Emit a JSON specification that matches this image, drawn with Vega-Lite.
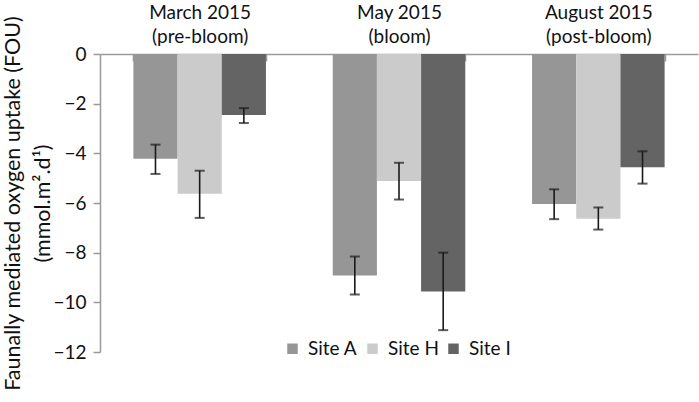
{
  "$schema": "https://vega.github.io/schema/vega-lite/v6.json",
  "width": 598,
  "height": 298,
  "autosize": {"type": "none"},
  "padding": {"left": 100, "top": 54, "right": 1, "bottom": 50},
  "background": "white",
  "config": {
    "font": "Lato",
    "view": {"stroke": null}
  },
  "data": {
    "values": [
      {"period": "March 2015|(pre-bloom)", "site": "Site A", "mean": -4.22, "lo": -4.83, "hi": -3.65},
      {"period": "March 2015|(pre-bloom)", "site": "Site H", "mean": -5.63, "lo": -6.6, "hi": -4.7},
      {"period": "March 2015|(pre-bloom)", "site": "Site I", "mean": -2.46, "lo": -2.78, "hi": -2.18},
      {"period": "May 2015|(bloom)", "site": "Site A", "mean": -8.92, "lo": -9.68, "hi": -8.15},
      {"period": "May 2015|(bloom)", "site": "Site H", "mean": -5.11, "lo": -5.86, "hi": -4.38},
      {"period": "May 2015|(bloom)", "site": "Site I", "mean": -9.56, "lo": -11.12, "hi": -8.0},
      {"period": "August 2015|(post-bloom)", "site": "Site A", "mean": -6.04, "lo": -6.65, "hi": -5.45},
      {"period": "August 2015|(post-bloom)", "site": "Site H", "mean": -6.63, "lo": -7.07, "hi": -6.18},
      {"period": "August 2015|(post-bloom)", "site": "Site I", "mean": -4.56, "lo": -5.22, "hi": -3.92}
    ]
  },
  "encoding": {
    "x": {
      "field": "period",
      "type": "nominal",
      "sort": null,
      "scale": {"paddingInner": 0.335, "paddingOuter": 0.1675},
      "axis": {
        "orient": "top",
        "title": null,
        "labelAngle": 0,
        "labelExpr": "split(datum.label, '|')",
        "labelFontSize": 19,
        "labelFontWeight": "normal",
        "labelLineHeight": 24,
        "labelColor": "#111111",
        "labelBaseline": "top",
        "labelPadding": 58,
        "tickBand": "extent",
        "tickSize": -7,
        "tickColor": "#9a9a9a",
        "domainColor": "#9a9a9a",
        "domainWidth": 1.5,
        "tickWidth": 1.5
      }
    },
    "xOffset": {"field": "site", "type": "nominal", "sort": ["Site A", "Site H", "Site I"]}
  },
  "layer": [
    {
      "mark": {"type": "bar"},
      "encoding": {
        "y": {
          "field": "mean",
          "type": "quantitative",
          "scale": {"domain": [-12, 0], "nice": false, "zero": false},
          "axis": {
            "values": [0, -2, -4, -6, -8, -10, -12],
            "format": "d",
            "grid": false,
            "labelFontSize": 19,
            "labelColor": "#111111",
            "labelPadding": 7,
            "tickSize": 7,
            "tickColor": "#9a9a9a",
            "domainColor": "#9a9a9a",
            "domainWidth": 1.5,
            "tickWidth": 1.5,
            "title": ["Faunally mediated oxygen uptake (FOU)", "(mmol.m².d¹)"],
            "titleFontSize": 21.5,
            "titleFontWeight": "normal",
            "titleColor": "#111111",
            "titleLineHeight": 30,
            "titleAngle": -90,
            "titleX": -98,
            "titleY": 149,
            "titleAlign": "center",
            "titleBaseline": "top"
          }
        },
        "y2": {"datum": 0},
        "color": {
          "field": "site",
          "type": "nominal",
          "scale": {"domain": ["Site A", "Site H", "Site I"], "range": ["#969696", "#cbcbcb", "#646464"]},
          "legend": {
            "title": null,
            "orient": "none",
            "direction": "horizontal",
            "legendX": 183,
            "legendY": 285,
            "symbolType": "square",
            "symbolSize": 110,
            "symbolStrokeWidth": 0,
            "labelFontSize": 19,
            "labelColor": "#111111",
            "labelOffset": 6,
            "columnPadding": 5
          }
        }
      }
    },
    {
      "mark": {"type": "rule", "color": "#1a1a1a", "strokeWidth": 1.6},
      "encoding": {
        "y": {"field": "lo", "type": "quantitative"},
        "y2": {"field": "hi"}
      }
    },
    {
      "mark": {"type": "tick", "color": "#1a1a1a", "thickness": 2, "size": 10, "orient": "horizontal"},
      "encoding": {
        "y": {"field": "lo", "type": "quantitative"}
      }
    },
    {
      "mark": {"type": "tick", "color": "#1a1a1a", "thickness": 2, "size": 10, "orient": "horizontal"},
      "encoding": {
        "y": {"field": "hi", "type": "quantitative"}
      }
    }
  ]
}
